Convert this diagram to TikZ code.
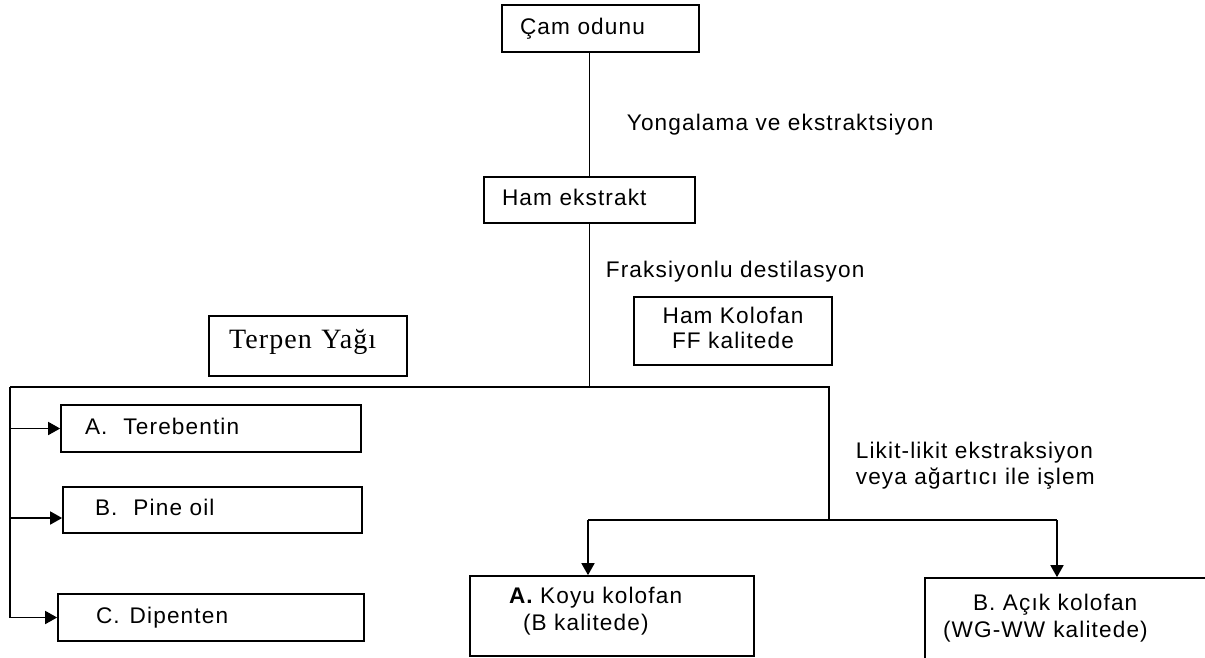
\documentclass[tikz,border=0pt]{standalone}
\usepackage{fontspec}
\setmainfont{Liberation Sans}[LetterSpace=5]
\newfontfamily\serifyazi{Liberation Serif}[LetterSpace=4]
\usetikzlibrary{arrows.meta}

\begin{document}
\begin{tikzpicture}[x=1pt,y=-1pt,line width=1.7pt,
  yazi/.style={font=\fontsize{22.6}{27}\selectfont,inner sep=0pt},
  kutu/.style={draw,rectangle,font=\fontsize{22.6}{27}\selectfont,inner ysep=0pt},
  tek/.style={align=left,text height=16pt,text depth=5pt},
  ok/.style={-{Triangle[width=13pt,length=12pt]}}]
\clip (0,0) rectangle (1205,657);
% kutular
\node (cam) [kutu,tek,minimum height=47pt,inner xsep=18pt,text width=161pt] at (600.5,28.5) {Çam odunu};
\node (ham) [kutu,tek,minimum height=46pt,inner xsep=18pt,text width=175pt] at (589.5,200) {Ham ekstrakt};
\node (kolofan) [kutu,minimum width=198pt,minimum height=68pt,text depth=8.5pt,font=\fontsize{22.6}{25}\selectfont] at (733,331)
  {\begin{tabular}[b]{@{}c@{}}Ham Kolofan\\FF kalitede\end{tabular}};
\node (terpen) [kutu,align=left,minimum height=60pt,inner xsep=20pt,text width=158pt,text depth=14pt,font=\serifyazi\fontsize{28}{32}\selectfont] at (308,346) {Terpen Yağı};
\node (tereb) [kutu,tek,minimum height=47pt,inner xsep=24pt,text width=252pt] at (211,428.5) {A.\hspace{16pt}Terebentin};
\node (pine) [kutu,tek,minimum height=46pt,inner xsep=32pt,text width=235pt] at (212.5,510) {B.\hspace{16pt}Pine oil};
\node (dip) [kutu,tek,minimum height=47pt,inner xsep=38pt,text width=230pt] at (211,617.5) {C.\hspace{10pt}Dipenten};
\node (koyu) [kutu,minimum width=284pt,minimum height=80pt,text depth=17.9pt,inner xsep=0pt] at (612,616)
  {\makebox[206pt][l]{\begin{tabular}[b]{@{}l@{}}{\bfseries A.} Koyu kolofan\\\hspace*{14pt}(B kalitede)\end{tabular}}};
\node (acik) [kutu,minimum width=315pt,minimum height=81.1pt,text depth=9pt,inner xsep=0pt] at (1082.5,618.55)
  {\makebox[279pt][l]{\begin{tabular}[b]{@{}l@{}}\hspace*{30pt}B. Açık kolofan\\(WG-WW\hspace{8pt}kalitede)\end{tabular}}};
% etiketler
\node (yonga) [yazi,anchor=base west] at (626,130) {Yongalama ve ekstraktsiyon};
\node (fraks) [yazi,anchor=base west] at (605,277) {Fraksiyonlu destilasyon};
\node (likit) [yazi,anchor=base west,font=\fontsize{22.6}{26}\selectfont] at (855,484)
  {\begin{tabular}[b]{@{}l@{}}Likit-likit ekstraksiyon\\veya ağartıcı ile işlem\end{tabular}};
% baglantilar
\coordinate (sol) at (10,387);
\coordinate (sag) at (829,387);
\coordinate (catal) at (829,520);
\coordinate (solok) at (588,520);
\coordinate (sagok) at (1057,520);
\draw (cam.south -| ham.north) -- (ham.north);
\draw (ham.south) -- (ham.south |- sol);
\draw (sol) -- (sag) -- (catal);
\draw[ok] (sol) |- (tereb.west);
\draw[ok] (sol) |- ([yshift=-8pt]pine.west);
\draw[ok] (sol) |- (dip.west);
\draw (solok) -- (sagok);
\draw[ok] (solok) -- (solok |- koyu.north);
\draw[ok] (sagok) -- (sagok |- acik.north);
\end{tikzpicture}
\end{document}
